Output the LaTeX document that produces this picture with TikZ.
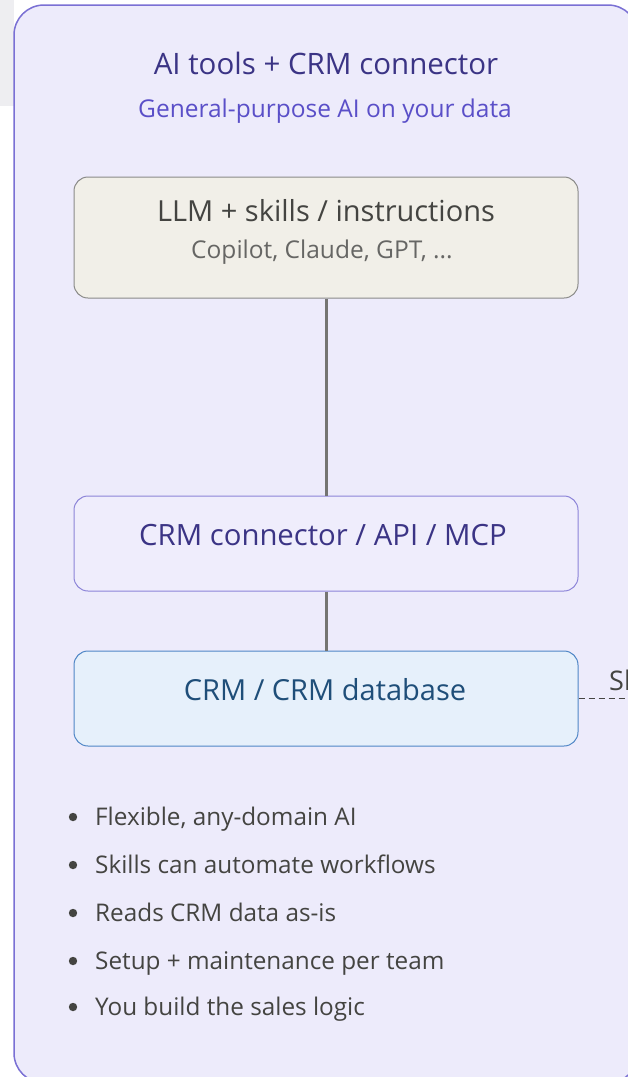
\documentclass[tikz,border=0pt]{standalone}
\usepackage{fontspec}
\setmainfont{Open Sans}
\definecolor{panelfill}{HTML}{EDEBFB}
\definecolor{panelline}{HTML}{7A70D4}
\definecolor{titlecol}{HTML}{3B3485}
\definecolor{subcol}{HTML}{5A4FC8}
\definecolor{llmfill}{HTML}{F1EFE8}
\definecolor{llmline}{HTML}{8A8A88}
\definecolor{apifill}{HTML}{EFEDFC}
\definecolor{apiline}{HTML}{8C84D8}
\definecolor{crmfill}{HTML}{E6F0FB}
\definecolor{crmline}{HTML}{4F86C6}
\definecolor{crmtext}{HTML}{1F4E79}
\definecolor{textdark}{HTML}{444441}
\definecolor{textgrey}{HTML}{666664}
\definecolor{connline}{HTML}{757572}
\definecolor{stripgrey}{HTML}{EEEEF1}
\tikzset{
  x=1pt, y=-1pt,
  boxbase/.style={rounded corners=14pt, line width=1pt, minimum width=504pt, inner sep=0pt},
  txt/.style={inner sep=0pt, anchor=center},
  conn/.style={draw=connline, line width=3pt},
  bul/.style={inner sep=0pt, anchor=base west, text=textdark, font=\fontsize{24.3}{28}\selectfont},
}
\begin{document}
\begin{tikzpicture}
\useasboundingbox (0,0) rectangle (628,1077);
\fill[white] (0,0) rectangle (628,1077);
\fill[stripgrey] (0,0) rectangle (14,106);
% outer panel
\draw[fill=panelfill, draw=panelline, line width=1.5pt, rounded corners=30pt] (14,5) rectangle (638,1083);
% titles
\node[txt, text=titlecol, font=\fontsize{29.5}{34}\selectfont] (title) at (326,63) {AI tools + CRM connector};
\node[txt, text=subcol, font=\fontsize{24.5}{28}\selectfont] (subtitle) at (325,111) {General-purpose AI on your data};
% boxes
\node[boxbase, draw=llmline, fill=llmfill, minimum height=121pt] (llm) at (326,237.5) {};
\node[txt, text=textdark, font=\fontsize{29}{34}\selectfont] (llmt) at (326,211) {LLM + skills / instructions};
\node[txt, text=textgrey, font=\fontsize{24.5}{28}\selectfont] (llms) at (322,252) {Copilot, Claude, GPT, ...};
\node[boxbase, draw=apiline, fill=apifill, minimum height=95pt] (api) at (326,543.5) {};
\node[txt, text=titlecol, font=\fontsize{29.3}{34}\selectfont] (apit) at (323,535) {CRM connector / API / MCP};
\node[boxbase, draw=crmline, fill=crmfill, minimum height=95pt] (crm) at (326,698.5) {};
\node[txt, text=crmtext, font=\fontsize{29}{34}\selectfont] (crmt) at (325,690) {CRM / CRM database};
% connectors
\draw[conn] (llm.south) -- (api.north);
\draw[conn] (api.south) -- (crm.north);
\coordinate (offright) at (640,698.5);
\draw[draw=textdark, line width=0.9pt, dash pattern=on 6pt off 4pt] (crm.east) -- (offright);
\node[inner sep=0pt, anchor=base west, text=textdark, font=\fontsize{27}{30}\selectfont] (sidelabel) at (609,690) {Shared};
% bullets
\foreach \i/\yy/\t in {1/817/{Flexible, any-domain AI},2/865/{Skills can automate workflows},3/913/{Reads CRM data as-is},4/961/{Setup + maintenance per team},5/1007/{You build the sales logic}}{
  \fill[textdark] (73,\yy) circle (4.2pt);
  \node[bul] (b\i) at (95,\yy+8.5) {\t};
}
\end{tikzpicture}
\end{document}
